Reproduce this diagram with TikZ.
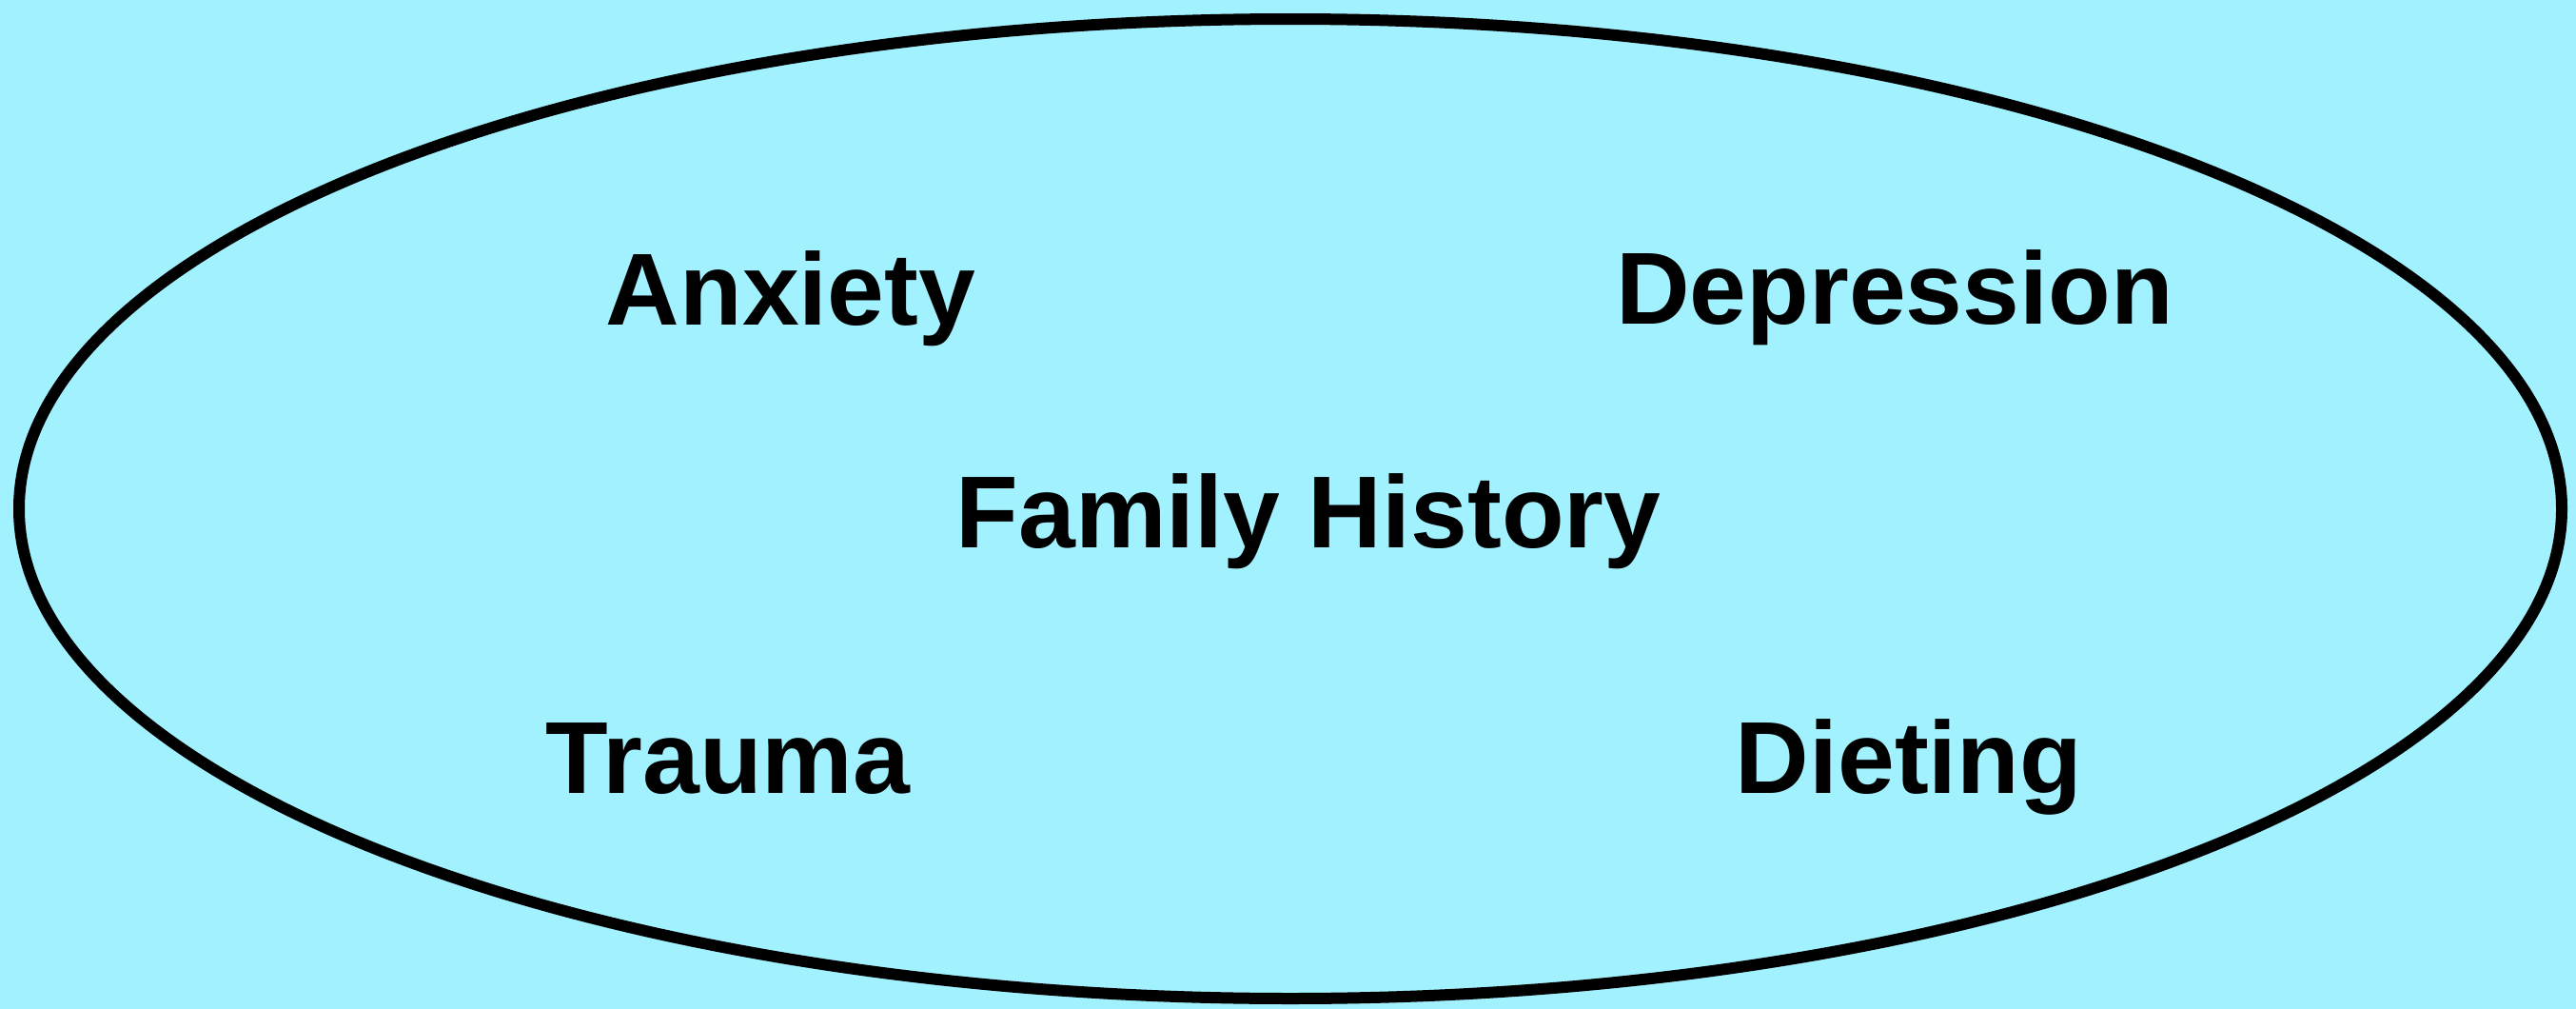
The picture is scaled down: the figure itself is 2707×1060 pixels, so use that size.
\documentclass[tikz,border=0pt]{standalone}
\usepackage{fontspec}
\setmainfont{Liberation Sans}
\definecolor{bgcyan}{RGB}{161,241,254}
\begin{document}
\begin{tikzpicture}[x=1pt,y=-1pt,
  lbl/.style={anchor=base,inner sep=0pt,font=\fontsize{107.5}{120}\selectfont\bfseries}]
\fill[bgcyan] (0,0) rectangle (2707,1060);
\useasboundingbox (0,0) rectangle (2707,1060);
\draw[line width=12pt] (1356,534.5) ellipse [x radius=1336, y radius=514.5];
\node[lbl] (fh) at (1375,575) {Family History};
\node[lbl] (anx) at (831,341) {Anxiety};
\node[lbl] (dep) at (1991,340) {Depression};
\node[lbl] (tra) at (765,833) {Trauma};
\node[lbl] (die) at (2006,833) {Dieting};
\end{tikzpicture}
\end{document}
